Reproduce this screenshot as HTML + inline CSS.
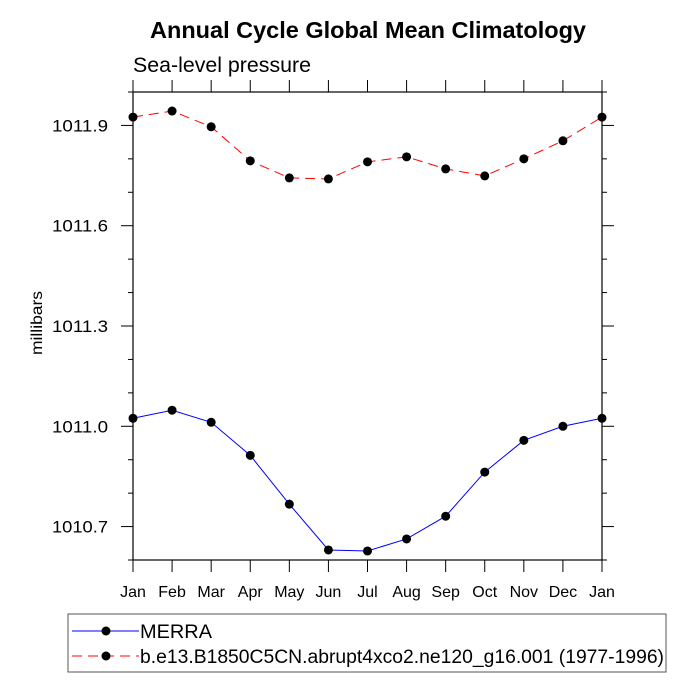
<!DOCTYPE html>
<html><head><meta charset="utf-8"><style>body{margin:0;background:#fff}svg{display:block;font-family:"Liberation Sans",Arial,sans-serif}</style></head>
<body>
<svg id="c" width="696" height="696">
<text x="368" y="38" text-anchor="middle" font-size="23" font-weight="bold" textLength="436" lengthAdjust="spacingAndGlyphs">Annual Cycle Global Mean Climatology</text>
<text x="133" y="72" font-size="21" textLength="178" lengthAdjust="spacingAndGlyphs">Sea-level pressure</text>
<text transform="translate(42,323) rotate(-90)" text-anchor="middle" font-size="16" textLength="64" lengthAdjust="spacingAndGlyphs">millibars</text>
<g id="g"></g>
<rect x="68" y="614" width="598" height="58" fill="none" stroke="#555"/>
<g><line x1="72" y1="631" x2="139" y2="631" stroke="#00f"/><circle cx="106" cy="631" r="4.5" fill="#000"/><text x="140" y="638" font-size="19" textLength="72" lengthAdjust="spacingAndGlyphs">MERRA</text></g>
<g><line x1="72" y1="656" x2="139" y2="656" stroke="#f00" stroke-dasharray="10,6"/><circle cx="106" cy="656" r="4.5" fill="#000"/><text x="140" y="663" font-size="19" textLength="524" lengthAdjust="spacingAndGlyphs">b.e13.B1850C5CN.abrupt4xco2.ne120_g16.001 (1977-1996)</text></g>
</svg>
<script>
const months=["Jan","Feb","Mar","Apr","May","Jun","Jul","Aug","Sep","Oct","Nov","Dec","Jan"];
const merra=[1011.024,1011.048,1011.012,1010.913,1010.767,1010.630,1010.627,1010.663,1010.731,1010.863,1010.958,1011.0,1011.024];
const model=[1011.925,1011.943,1011.896,1011.794,1011.743,1011.740,1011.791,1011.806,1011.770,1011.749,1011.800,1011.854,1011.925];
const yTicks=[1010.7,1011.0,1011.3,1011.6,1011.9];
const L=133,R=602,T=92,B=560,ymin=1010.6,ymax=1012.0;
const X=i=>L+(R-L)*i/(months.length-1);
const Y=v=>B-(v-ymin)/(ymax-ymin)*(B-T);
const g=document.getElementById('g');const ns="http://www.w3.org/2000/svg";
function mk(t,a){const e=document.createElementNS(ns,t);for(const k in a)e.setAttribute(k,a[k]);g.appendChild(e);return e;}
let e=mk('rect',{x:L,y:T,width:R-L,height:B-T,fill:'none',stroke:'#000','stroke-width':1.2});


months.forEach((m,i)=>{const x=X(i);
mk('line',{x1:x,y1:B,x2:x,y2:B+12,stroke:'#000'});mk('line',{x1:x,y1:T,x2:x,y2:T-12,stroke:'#000'});
const t=mk('text',{x:x,y:B+37,'text-anchor':'middle','font-size':16});t.textContent=m;

});
for(let v=ymin;v<=ymax+1e-6;v+=0.1){const y=Y(v);const maj=yTicks.some(t=>Math.abs(t-v)<1e-6);const l=maj?12:5;
mk('line',{x1:L,y1:y,x2:L-l,y2:y,stroke:'#000'});mk('line',{x1:R,y1:y,x2:R+l,y2:y,stroke:'#000'});}
yTicks.forEach(v=>{const t=mk('text',{x:108,y:Y(v)+6,'text-anchor':'end','font-size':17,textLength:56,lengthAdjust:'spacingAndGlyphs'});t.textContent=v.toFixed(1);

});
function series(d,col,dash,name){const p=mk('polyline',{points:d.map((v,i)=>X(i)+','+Y(v)).join(' '),fill:'none',stroke:col,'stroke-dasharray':dash});


d.forEach((v,i)=>{const c=mk('circle',{cx:X(i),cy:Y(v),r:4.5,fill:'#000'});

});}
series(merra,'#00f','none','merra');
series(model,'#f00','10,6','model');
</script>
</body></html>
